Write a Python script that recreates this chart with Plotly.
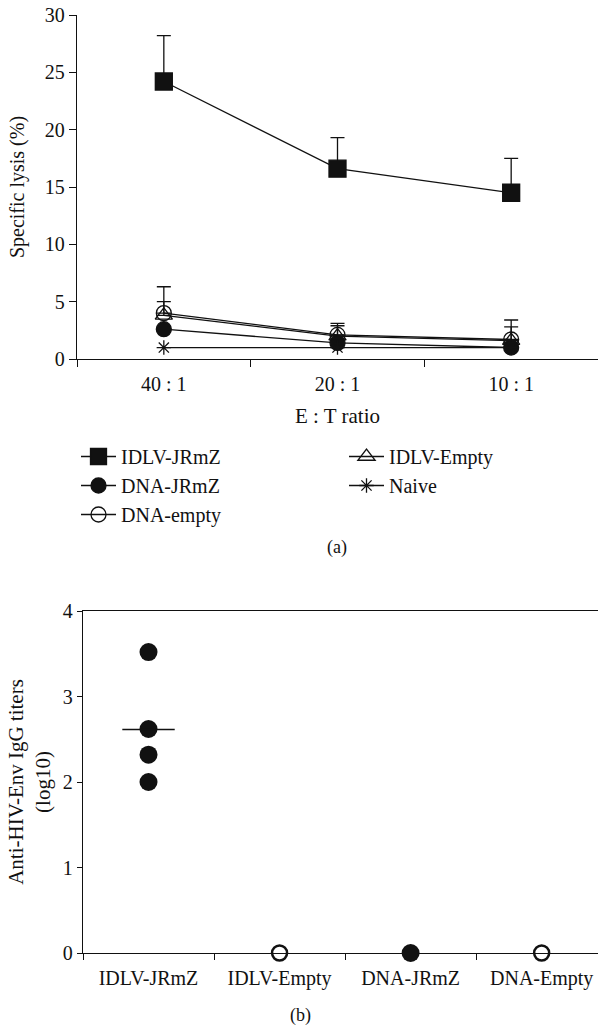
import plotly.graph_objects as go
import numpy as np

# ---------- Panel (a) data ----------
ratios = ["40 : 1", "20 : 1", "10 : 1"]
idlv_jrmz = [24.2, 16.6, 14.5]
idlv_jrmz_err = [4.0, 2.7, 3.0]
dna_jrmz = [2.6, 1.4, 1.0]
dna_empty = [4.0, 2.1, 1.7]
dna_empty_err = [2.3, 1.0, 1.7]
idlv_empty = [3.8, 2.0, 1.6]
idlv_empty_err = [1.2, 0.9, 1.2]
naive = [1.0, 1.0, 1.0]

# ---------- Panel (b) data ----------
groups = ["IDLV-JRmZ", "IDLV-Empty", "DNA-JRmZ", "DNA-Empty"]
titers_idlv_jrmz = [3.52, 2.62, 2.32, 2.0]
titers_idlv_empty = [0.0]
titers_dna_jrmz = [0.0]
titers_dna_empty = [0.0]

FONT = "Liberation Serif"
INK = "#111111"
W, H = 598, 1026

def px_x(p):
    return p / W

def px_y(p):
    return 1 - p / H

fig = go.Figure()
xa = list(range(len(ratios)))

def add_a(name, y, err, symbol, size, legend, lw=1.3, mlw=1.3):
    ey = None
    if err is not None:
        ey = dict(type="data", symmetric=False, array=err, arrayminus=[0] * len(err),
                  color=INK, thickness=1.3, width=7)
    fig.add_trace(go.Scatter(
        x=xa, y=y, name=name, mode="lines+markers",
        line=dict(color=INK, width=lw),
        marker=dict(symbol=symbol, size=size, color=INK, line=dict(color=INK, width=mlw)),
        error_y=ey, cliponaxis=False, xaxis="x", yaxis="y",
        legend=legend, legendgroup=name,
    ))

add_a("IDLV-JRmZ", idlv_jrmz, idlv_jrmz_err, "square", 17, "legend")
add_a("DNA-JRmZ", dna_jrmz, None, "circle", 15, "legend")
add_a("DNA-empty", dna_empty, dna_empty_err, "circle-open", 15, "legend")
add_a("IDLV-Empty", idlv_empty, idlv_empty_err, "triangle-up-open", 15, "legend2")
add_a("Naive", naive, None, "asterisk-open", 12, "legend2")

# ---------- Panel (b) traces ----------
def add_b(i, vals, symbol, size, lw):
    fig.add_trace(go.Scatter(
        x=[i] * len(vals), y=vals, mode="markers", showlegend=False,
        marker=dict(symbol=symbol, size=size, color=INK, line=dict(color=INK, width=lw)),
        cliponaxis=False, xaxis="x2", yaxis="y2",
    ))

add_b(0, titers_idlv_jrmz, "circle", 18, 0)
add_b(1, titers_idlv_empty, "circle-open", 15, 2.5)
add_b(2, titers_dna_jrmz, "circle", 18, 0)
add_b(3, titers_dna_empty, "circle-open", 15, 2.5)
m = float(np.mean(titers_idlv_jrmz))
fig.add_trace(go.Scatter(x=[-0.2, 0.2], y=[m, m], mode="lines", showlegend=False,
                         line=dict(color=INK, width=1.5), xaxis="x2", yaxis="y2"))

tickfont_a = dict(family=FONT, size=20, color=INK)
tickfont_b = dict(family=FONT, size=20, color=INK)
legfont = dict(family=FONT, size=20, color=INK)

fig.update_layout(
    width=W, height=H, margin=dict(l=0, r=0, t=0, b=0, autoexpand=False),
    paper_bgcolor="white", plot_bgcolor="white",
    font=dict(family=FONT, color=INK),
    xaxis=dict(domain=[px_x(77), 1], range=[-0.5, 2.5], anchor="y", automargin=False,
               tickvals=xa, ticktext=ratios, ticks="", tickfont=tickfont_a,
               ticklabelstandoff=7,
               minor=dict(tick0=0.5, dtick=1, ticks="outside", ticklen=7, tickcolor=INK, tickwidth=1.2),
               showline=True, linecolor=INK, linewidth=1.3, showgrid=False, zeroline=False,
               title=dict(text="E : T ratio", font=dict(family=FONT, size=21, color=INK), standoff=14)),
    yaxis=dict(domain=[px_y(359), px_y(15)], range=[0, 30], anchor="x", automargin=False,
               tickvals=[0, 5, 10, 15, 20, 25, 30], ticks="outside", ticklen=7,
               tickcolor=INK, tickwidth=1.2, tickfont=tickfont_a,
               showline=True, linecolor=INK, linewidth=1.3, showgrid=False, zeroline=False,
               title=dict(text="Specific lysis (%)", font=dict(family=FONT, size=20, color=INK), standoff=14)),
    xaxis2=dict(domain=[px_x(83), 1], range=[-0.5, 3.43], anchor="y2", automargin=False,
                tickvals=[0, 1, 2, 3], ticktext=groups, ticks="", tickfont=tickfont_b,
                ticklabelstandoff=7,
                minor=dict(tick0=0.5, dtick=1, ticks="outside", ticklen=6, tickcolor=INK, tickwidth=1.2),
                showline=True, mirror=True, linecolor=INK, linewidth=1.3, showgrid=False, zeroline=False),
    yaxis2=dict(domain=[px_y(953), px_y(611)], range=[0, 4], anchor="x2", automargin=False,
                tickvals=[0, 1, 2, 3, 4], ticks="outside", ticklen=5,
                tickcolor=INK, tickwidth=1.2, tickfont=tickfont_b,
                showline=True, linecolor=INK, linewidth=1.3, showgrid=False, zeroline=False,
                title=dict(text="Anti-HIV-Env IgG titers<br>(log10)", font=dict(family=FONT, size=21, color=INK), standoff=6)),
    legend=dict(x=px_x(76), y=px_y(437), xanchor="left", yanchor="top",
                font=legfont, bgcolor="rgba(0,0,0,0)", itemwidth=35,
                traceorder="normal", tracegroupgap=0),
    legend2=dict(x=px_x(344), y=px_y(437), xanchor="left", yanchor="top",
                 font=legfont, bgcolor="rgba(0,0,0,0)", itemwidth=35,
                 traceorder="normal", tracegroupgap=0),
    annotations=[
        dict(text="(a)", x=px_x(337), y=px_y(547), xref="paper", yref="paper",
             xanchor="center", yanchor="middle",
             showarrow=False, font=dict(family=FONT, size=18, color=INK)),
        dict(text="(b)", x=px_x(300), y=px_y(1015), xref="paper", yref="paper",
             xanchor="center", yanchor="middle",
             showarrow=False, font=dict(family=FONT, size=18, color=INK)),
    ],
)

fig.write_html("out.html", config={"displayModeBar": False},
               post_script="document.body.style.margin='0px';")
